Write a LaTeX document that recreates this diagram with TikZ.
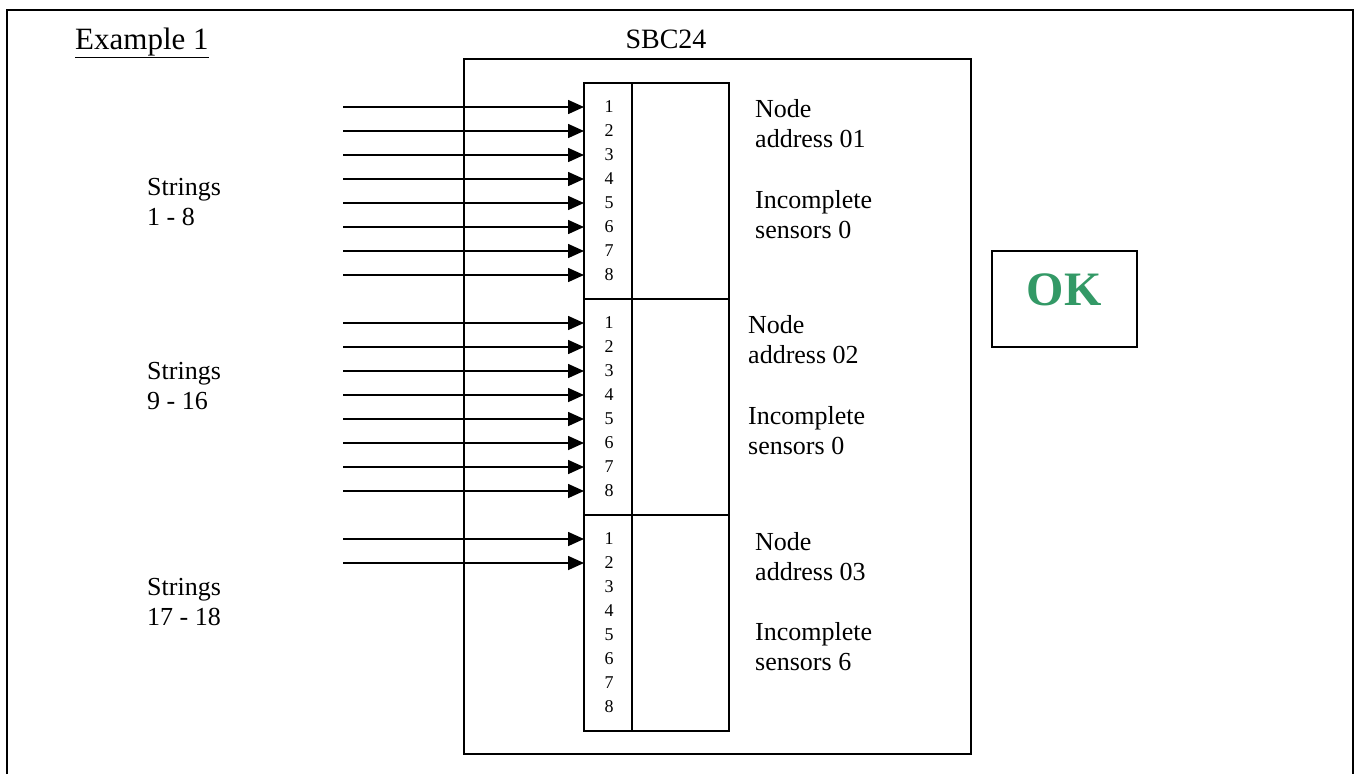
\documentclass[tikz,border=0pt]{standalone}
\usepackage{fontspec}
\setmainfont{Liberation Serif}
\usetikzlibrary{arrows.meta}
\definecolor{okgreen}{RGB}{51,153,102}
\tikzset{
  txt/.style={font=\fontsize{26}{30}\selectfont, inner sep=0pt, anchor=base west, align=left},
  pinnum/.style={font=\fontsize{18}{18}\selectfont, inner sep=0pt},
  frame/.style={draw, line width=2pt},
  col/.style={draw, line width=1.8pt, minimum width=48pt, minimum height=216pt, inner sep=0pt, outer sep=0pt},
  colr/.style={draw, line width=1.8pt, minimum width=97pt, minimum height=216pt, inner sep=0pt, outer sep=0pt},
  sig/.style={line width=1.6pt, -{Triangle[length=16pt,width=14pt]}}
}
\begin{document}
\begin{tikzpicture}[x=1pt,y=-1pt]
\useasboundingbox (0,0) rectangle (1360,774);
% outer frame (open at the bottom)
\draw[frame] (7,774) -- (7,10) -- (1353,10) -- (1353,774);
% title
\node[txt, font=\fontsize{31}{34}\selectfont] (title) at (75,49) {\underline{Example 1}};
% SBC box
\node[txt, anchor=base, font=\fontsize{28}{30}\selectfont] (sbclabel) at (666,48) {SBC24};
\draw[frame] (464,59) rectangle (971,754);
% pin blocks
\foreach \b in {0,1,2} {
  \node[col, anchor=north west] (col\b) at (584,{83+216*\b}) {};
  \node[colr, anchor=north west] (colr\b) at (632,{83+216*\b}) {};
  \foreach \i in {1,...,8} {
    \node[pinnum] (n\b-\i) at (609,{83+216*\b+24*\i}) {\i};
  }
}
% arrows
\foreach \b/\m in {0/8,1/8,2/2} {
  \foreach \i in {1,...,\m} {
    \coordinate (s\b-\i) at (343,{83+216*\b+24*\i});
    \draw[sig] (s\b-\i) -- (col\b.west |- s\b-\i);
  }
}
% strings labels (anchor = baseline of the last line)
\node[txt] (str0) at (147,225) {Strings\\1 - 8};
\node[txt] (str1) at (147,409) {Strings\\9 - 16};
\node[txt] (str2) at (147,625) {Strings\\17 - 18};
% node labels
\node[txt] (na0) at (755,147) {Node\\address 01};
\node[txt] (ic0) at (755,238) {Incomplete\\sensors 0};
\node[txt] (na1) at (748,363) {Node\\address 02};
\node[txt] (ic1) at (748,454) {Incomplete\\sensors 0};
\node[txt] (na2) at (755,580) {Node\\address 03};
\node[txt] (ic2) at (755,670) {Incomplete\\sensors 6};
% OK box
\draw[frame] (992,251) rectangle (1137,347);
\node[inner sep=0pt, anchor=base, text=okgreen, font=\fontsize{48}{48}\selectfont\bfseries] (ok) at (1064,305) {OK};
\end{tikzpicture}
\end{document}
